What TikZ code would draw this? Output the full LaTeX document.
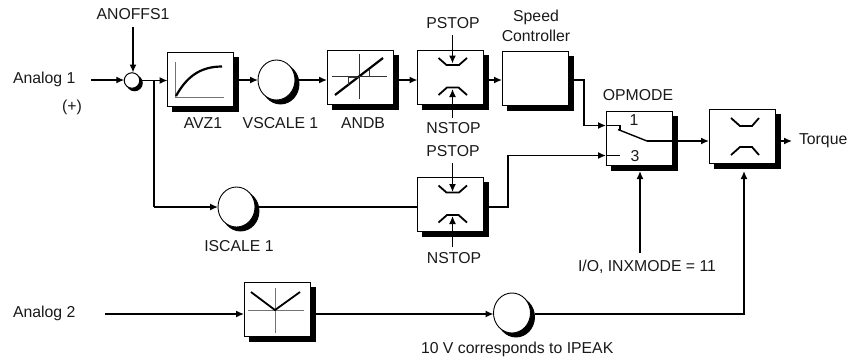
\documentclass[tikz,border=0pt]{standalone}
\usepackage{fontspec}
\setmainfont{Liberation Sans}
\usetikzlibrary{arrows.meta,calc,shapes.geometric}
\newcommand{\shbox}[3]{%
  \node[boxshade] (#1-sh) at ($(#2,#3)+(5,5)$) {};
  \node[blockbox] (#1) at (#2,#3) {};}
\newcommand{\shcirc}[3]{%
  \node[circshade] (#1-sh) at ($(#2,#3)+(4,4)$) {};
  \node[gaincirc] (#1) at (#2,#3) {};}
\tikzset{
  x=1pt,y=-1pt,
  wire/.style={line width=1.4pt,black},
  arr/.style={wire,-{Latex[length=8pt,width=7pt]}},
  blockbox/.style={draw=black,line width=0.9pt,fill=white,inner sep=0pt,outer sep=0pt,minimum width=66pt,minimum height=54pt},
  boxshade/.style={blockbox,fill=black},
  gaincirc/.style={ellipse,draw=black,line width=0.9pt,fill=white,inner sep=0pt,outer sep=0pt,minimum width=37pt,minimum height=40pt},
  circshade/.style={gaincirc,fill=black},
  sumcirc/.style={circle,draw=black,line width=1pt,fill=white,inner sep=0pt,outer sep=0pt,minimum size=15.5pt},
  sumshade/.style={sumcirc,fill=black},
  lbl/.style={inner sep=0pt,outer sep=0pt,font=\fontsize{15.8pt}{18pt}\selectfont,text=black!90},
  thin axis/.style={line width=0.7pt,black!55},
  axis dark/.style={line width=0.9pt,black!80},
  thick curve/.style={line width=2.2pt,black},
  limit/.style={line width=1.8pt,black},
}
\begin{document}
\begin{tikzpicture}
\useasboundingbox (0,0) rectangle (859,360);
% labels
\node[lbl] (anoffs) at (133,14) {ANOFFS1};
\node[lbl,anchor=west] (an1) at (13,79) {Analog 1};
\node[lbl] (plus) at (72,107) {(+)};
\node[lbl] (avzl) at (203,123) {AVZ1};
\node[lbl] (vsl) at (280.5,123) {VSCALE 1};
\node[lbl] (andbl) at (363,123) {ANDB};
\node[lbl] (ps1) at (453,23) {PSTOP};
\node[lbl] (sp) at (536,17) {Speed};
\node[lbl] (ct) at (536,36) {Controller};
\node[lbl] (ns1) at (453.5,128) {NSTOP};
\node[lbl] (ps2) at (453,151) {PSTOP};
\node[lbl] (opl) at (638,95) {OPMODE};
\node[lbl] (isl) at (239,246) {ISCALE 1};
\node[lbl] (ns2) at (454,258) {NSTOP};
\node[lbl] (iol) at (647,267) {I/O, INXMODE = 11};
\node[lbl,anchor=west] (an2) at (13,313) {Analog 2};
\node[lbl,anchor=west] (tenv) at (421,349) {10 V corresponds to IPEAK};
\node[lbl,anchor=west] (tq) at (799,141) {Torque};
% blocks
\node[sumshade] (sum-sh) at (134.5,83) {};
\node[sumcirc] (sum) at (132,80.5) {};
\shbox{avz}{200.5}{79}
\shcirc{vs}{276.5}{80}
\shbox{andb}{360}{77}
\shbox{stopa}{450.5}{77}
\shbox{spd}{535}{78}
\shbox{opm}{639}{138}
\shbox{lim}{742}{136.5}
\shcirc{is}{236.5}{207}
\shbox{stopb}{450.5}{204.5}
\shbox{abs}{277}{309.5}
\shcirc{ip}{512}{313}
% free ends
\coordinate (an1s) at (91,80);
\coordinate (an2s) at (105,314);
\coordinate (anoffss) at (133,27);
\coordinate (anoffse) at (133,72.5);
\coordinate (ps1s) at (452.5,35);
\coordinate (ns1s) at (452.5,118);
\coordinate (ps2s) at (452.5,163);
\coordinate (ns2s) at (452.5,247);
\coordinate (ps1e) at (452.5,63.5);
\coordinate (ns1e) at (452.5,89);
\coordinate (ps2e) at (452.5,192);
\coordinate (ns2e) at (452.5,216);
\coordinate (ios) at (640,253);
\coordinate (qout) at (792,141);
\coordinate (rowa) at (0,80);
\coordinate (rowb) at (0,125.5);
\coordinate (rowc) at (0,155.5);
\coordinate (rowd) at (0,207);
\coordinate (rowe) at (0,314);
\coordinate (brk) at (154,207);
\coordinate (brt) at (154,80.5);
\coordinate (swj) at (647,141);
% wires
\draw[arr] (an1s) -- (sum.west |- an1s);
\draw[arr] (anoffss) -- (anoffse);
\draw[arr] (sum-sh.east |- sum.east) -- (avz.west |- sum.east);
\draw[wire] (brt) -- (brk);
\draw[arr] (brk) -- (is.west);
\draw[arr] (avz-sh.east |- rowa) -- (vs.west |- rowa);
\draw[arr] (vs-sh.east |- rowa) -- (andb.west |- rowa);
\draw[arr] (andb-sh.east |- rowa) -- (stopa.west |- rowa);
\draw[arr] (stopa-sh.east |- rowa) -- (spd.west |- rowa);
\draw[arr] (spd-sh.east |- rowa) -| (584,125.5) -- (opm.west |- rowb);
\draw[wire] (opm.west |- rowb) -- (620,125.5) -- (620,131);
\draw[wire] (618,129.5) -- (swj);
\draw[arr] (swj) -- (lim.west |- swj);
\draw[wire] (opm.west |- rowc) -- (620,155.5);
\draw[wire] (is-sh.east |- rowd) -- (stopb.west |- rowd);
\draw[arr] (stopb-sh.east |- rowd) -| (508,155.5) -- (opm.west |- rowc);
\draw[arr] (lim-sh.east |- qout) -- (qout);
\draw[arr] (ios) -- (640,171);
\draw[arr] (an2s) -- (abs.west |- an2s);
\draw[arr] (abs-sh.east |- an2s) -- (ip.west |- an2s);
\draw[arr] (ip-sh.east |- an2s) -| (744,171);
\draw[arr] (ps1s) -- (ps1e);
\draw[arr] (ns1s) -- (ns1e);
\draw[arr] (ps2s) -- (ps2e);
\draw[arr] (ns2s) -- (ns2e);
% icons
\draw[thin axis] (175.5,62) -- (175.5,97) -- (224,97);
\draw[thick curve] (176,96) .. controls (186,78) and (199,66.5) .. (222,66.5);
\draw[axis dark] (359,54) -- (359,99);
\draw[axis dark] (332,76) -- (387,76);
\draw[thick curve] (335,95) -- (383,58);
\draw[axis dark] (348,85) -- (348,77) -- (359,77);
\draw[axis dark] (369,70) -- (369,76.5) -- (359,76.5);
\foreach \cy in {0,127.5}{
  \draw[limit] (438.5,58+\cy) -- (446.5,65+\cy) -- (459,65+\cy) -- (467,58+\cy);
  \draw[limit] (438.5,95+\cy) -- (447,87.5+\cy) -- (458.5,87.5+\cy) -- (467,95+\cy);
}
\draw[limit] (731,118) -- (740,126) -- (752,126) -- (759,118);
\draw[limit] (731,155) -- (740,147) -- (752,147) -- (759,155);
\node[lbl] (one) at (634,120) {1};
\node[lbl] (three) at (635,156) {3};
\draw[thin axis] (275,288) -- (275,333);
\draw[thin axis] (248,310) -- (304,310);
\draw[limit] (251,292) -- (275,310) -- (300,292);
\end{tikzpicture}
\end{document}
